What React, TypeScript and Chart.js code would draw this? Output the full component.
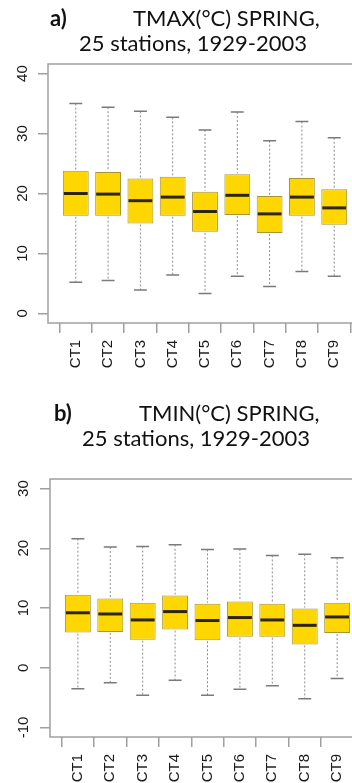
import React, { useEffect, useRef } from 'react';
import { Chart, registerables } from 'chart.js';

Chart.register(...registerables);

const categories = ['CT1', 'CT2', 'CT3', 'CT4', 'CT5', 'CT6', 'CT7', 'CT8', 'CT9'];

// a) TMAX spring
const tmaxLow = [5.2, 5.5, 3.9, 6.4, 3.3, 6.2, 4.5, 7.0, 6.2];
const tmaxQ1 = [16.3, 16.3, 15.0, 16.3, 13.6, 16.4, 13.4, 16.3, 14.8];
const tmaxMedian = [20.0, 19.9, 18.8, 19.4, 17.0, 19.7, 16.6, 19.4, 17.6];
const tmaxQ3 = [23.8, 23.6, 22.5, 22.8, 20.3, 23.2, 19.6, 22.6, 20.7];
const tmaxHigh = [35.0, 34.4, 33.7, 32.7, 30.6, 33.6, 28.8, 32.0, 29.3];
const tmaxTicks = [0, 10, 20, 30, 40];

// b) TMIN spring
const tminLow = [-3.5, -2.5, -4.6, -2.1, -4.6, -3.6, -3.0, -5.2, -1.8];
const tminQ1 = [5.9, 6.0, 4.7, 6.4, 4.6, 5.2, 5.2, 3.9, 5.8];
const tminMedian = [9.2, 9.0, 8.0, 9.4, 7.9, 8.4, 8.0, 7.1, 8.5];
const tminQ3 = [12.2, 11.6, 10.9, 12.1, 10.7, 11.1, 10.7, 9.9, 10.9];
const tminHigh = [21.6, 20.2, 20.3, 20.6, 19.8, 19.9, 18.8, 19.0, 18.4];
const tminTicks = [-10, 0, 10, 20, 30];

type Spec = {
  low: number[];
  q1: number[];
  median: number[];
  q3: number[];
  high: number[];
  ticks: number[];
};

type Layout = {
  axisWidth: number;
  padTop: number;
  xAxisHeight: number;
  labelX: number;
};

const AXIS_FONT = "'Liberation Sans', Arial, sans-serif";
const GOLD = '#FFD700';
const BOX_EDGE = '#a8953a';
const MEDIAN = '#2e2600';
const WHISKER = '#8c8c8c';
const FRAME = '#a0a0a0';

function makePlugin(spec: Spec, layout: Layout) {
  return {
    id: 'boxWhiskers',
    afterDatasetsDraw(chart: any) {
      const { ctx, chartArea } = chart;
      const xs = chart.scales.x;
      const ys = chart.scales.y;
      const meta = chart.getDatasetMeta(0);
      ctx.save();
      spec.median.forEach((m, i) => {
        const el = meta.data[i];
        const w = el ? el.width : 25;
        const x = xs.getPixelForValue(i + 1);
        const yHigh = ys.getPixelForValue(spec.high[i]);
        const yQ3 = ys.getPixelForValue(spec.q3[i]);
        const yQ1 = ys.getPixelForValue(spec.q1[i]);
        const yLow = ys.getPixelForValue(spec.low[i]);
        const yMed = ys.getPixelForValue(m);
        // dashed whiskers
        ctx.strokeStyle = WHISKER;
        ctx.lineWidth = 1;
        ctx.setLineDash([2, 2]);
        ctx.beginPath();
        ctx.moveTo(x, yHigh);
        ctx.lineTo(x, yQ3 - 1);
        ctx.moveTo(x, yQ1 + 1);
        ctx.lineTo(x, yLow);
        ctx.stroke();
        // caps
        ctx.setLineDash([]);
        ctx.strokeStyle = '#7a7a7a';
        ctx.lineWidth = 1.5;
        ctx.beginPath();
        ctx.moveTo(x - w / 4, yHigh);
        ctx.lineTo(x + w / 4, yHigh);
        ctx.moveTo(x - w / 4, yLow);
        ctx.lineTo(x + w / 4, yLow);
        ctx.stroke();
        // median
        ctx.strokeStyle = MEDIAN;
        ctx.lineWidth = 3;
        ctx.beginPath();
        ctx.moveTo(x - w / 2 + 1, yMed);
        ctx.lineTo(x + w / 2 - 1, yMed);
        ctx.stroke();
      });
      // plot frame
      ctx.strokeStyle = FRAME;
      ctx.lineWidth = 1.5;
      ctx.strokeRect(
        chartArea.left,
        chartArea.top,
        chartArea.right - chartArea.left,
        chartArea.bottom - chartArea.top
      );
      // rotated y tick labels
      ctx.fillStyle = '#1a1a1a';
      ctx.font = `15px ${AXIS_FONT}`;
      ctx.textAlign = 'center';
      ctx.textBaseline = 'middle';
      spec.ticks.forEach((v) => {
        const y = ys.getPixelForValue(v);
        ctx.save();
        ctx.translate(layout.labelX, y);
        ctx.rotate(-Math.PI / 2);
        ctx.fillText(String(v), 0, 0);
        ctx.restore();
      });
      ctx.restore();
    },
  };
}

function buildChart(canvas: HTMLCanvasElement, spec: Spec, layout: Layout) {
  const yMin = spec.ticks[0];
  const yMax = spec.ticks[spec.ticks.length - 1];
  const ext = (yMax - yMin) * 0.04;
  const xExt = categories.length * 0.04;
  return new Chart(canvas, {
    type: 'bar',
    data: {
      datasets: [
        {
          data: categories.map((_, i) => ({ x: i + 1, y: [spec.q1[i], spec.q3[i]] })) as any,
          backgroundColor: GOLD,
          borderColor: BOX_EDGE,
          borderWidth: 1,
          borderSkipped: false,
          barPercentage: 1,
          categoryPercentage: 0.8,
        },
      ],
    },
    options: {
      responsive: false,
      animation: false,
      devicePixelRatio: 1,
      layout: { padding: { top: layout.padTop, left: 0, right: 0, bottom: 0 } },
      plugins: {
        legend: { display: false },
        tooltip: { enabled: false },
        title: { display: false },
      },
      scales: {
        x: {
          type: 'linear',
          min: 0.5 - xExt,
          max: categories.length + 0.5 + xExt,
          offset: false,
          afterBuildTicks: (sc: any) => {
            sc.ticks = categories.map((_, i) => ({ value: i + 1 }));
          },
          afterFit: (sc: any) => {
            sc.height = layout.xAxisHeight;
          },
          ticks: {
            autoSkip: false,
            minRotation: 90,
            maxRotation: 90,
            padding: 7,
            color: '#1a1a1a',
            font: { family: AXIS_FONT, size: 15 },
            callback: (v: any) => categories[Math.round(Number(v)) - 1] ?? '',
          },
          grid: {
            display: true,
            drawOnChartArea: false,
            drawTicks: true,
            tickLength: 10,
            color: FRAME,
            lineWidth: 1.5,
          },
          border: { display: false },
        },
        y: {
          type: 'linear',
          min: yMin - ext,
          max: yMax + ext,
          afterBuildTicks: (sc: any) => {
            sc.ticks = spec.ticks.map((v) => ({ value: v }));
          },
          afterFit: (sc: any) => {
            sc.width = layout.axisWidth;
          },
          ticks: { display: false },
          grid: {
            display: true,
            drawOnChartArea: false,
            drawTicks: true,
            tickLength: 10,
            color: FRAME,
            lineWidth: 1.5,
          },
          border: { display: false },
        },
      },
    } as any,
    plugins: [makePlugin(spec, layout)],
  });
}

const tmaxSpec: Spec = {
  low: tmaxLow,
  q1: tmaxQ1,
  median: tmaxMedian,
  q3: tmaxQ3,
  high: tmaxHigh,
  ticks: tmaxTicks,
};
const tminSpec: Spec = {
  low: tminLow,
  q1: tminQ1,
  median: tminMedian,
  q3: tminQ3,
  high: tminHigh,
  ticks: tminTicks,
};

const TITLE_FONT = "Lato, 'Open Sans', sans-serif";

function TitleText(props: { left: number; top: number; bold?: boolean; children: React.ReactNode }) {
  return (
    <div
      style={{
        position: 'absolute',
        left: props.left,
        top: props.top,
        fontFamily: TITLE_FONT,
        fontSize: 22,
        lineHeight: '22px',
        fontWeight: props.bold ? 700 : 400,
        color: '#111',
        whiteSpace: 'nowrap',
        zIndex: 2,
      }}
    >
      {props.children}
    </div>
  );
}

export default function App() {
  const refA = useRef<HTMLCanvasElement>(null);
  const refB = useRef<HTMLCanvasElement>(null);

  useEffect(() => {
    const a = buildChart(refA.current!, tmaxSpec, {
      axisWidth: 48,
      padTop: 64,
      xAxisHeight: 62,
      labelX: 23,
    });
    const b = buildChart(refB.current!, tminSpec, {
      axisWidth: 50,
      padTop: 84,
      xAxisHeight: 46,
      labelX: 24,
    });
    return () => {
      a.destroy();
      b.destroy();
    };
  }, []);

  return (
    <div
      style={{
        position: 'fixed',
        left: 0,
        top: 0,
        width: 352,
        height: 783,
        overflow: 'hidden',
        background: '#fff',
      }}
    >
      <TitleText left={50} top={7} bold>
        a)
      </TitleText>
      <TitleText left={133} top={7}>
        TMAX(°C) SPRING,
      </TitleText>
      <TitleText left={79} top={32}>
        25 stations, 1929-2003
      </TitleText>
      <canvas
        ref={refA}
        width={362}
        height={385}
        style={{ position: 'absolute', left: 0, top: 0, width: 362, height: 385 }}
      />
      <TitleText left={54} top={402}>
        <b>b)</b>
      </TitleText>
      <TitleText left={139} top={402}>
        TMIN(°C) SPRING,
      </TitleText>
      <TitleText left={82} top={427}>
        25 stations, 1929-2003
      </TitleText>
      <canvas
        ref={refB}
        width={365}
        height={388}
        style={{ position: 'absolute', left: 0, top: 395, width: 365, height: 388 }}
      />
    </div>
  );
}
